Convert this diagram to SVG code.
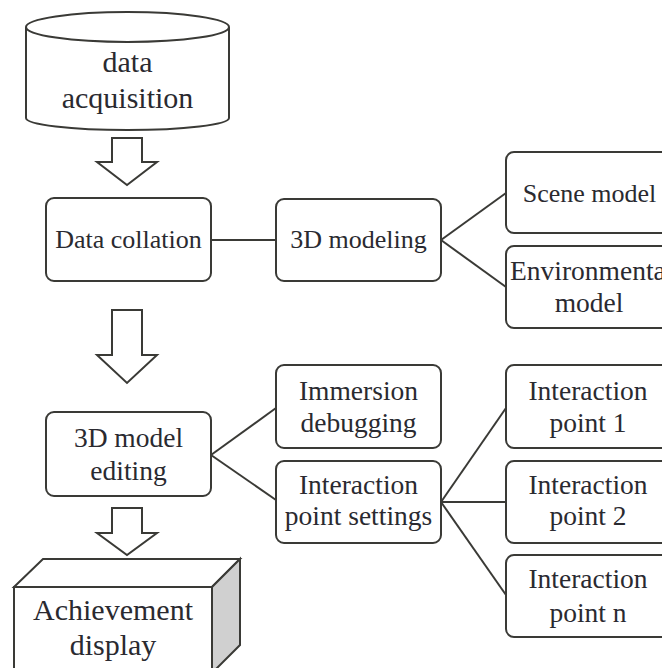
<svg xmlns="http://www.w3.org/2000/svg" width="662" height="668" viewBox="0 0 662 668">
<rect width="662" height="668" fill="#fff"/>
<g id="connectors" fill="none" stroke="#3a3a36" stroke-width="2">
<line x1="211" y1="240" x2="276" y2="240"/>
<line x1="441" y1="240" x2="506" y2="193"/>
<line x1="441" y1="240" x2="506" y2="287"/>
<line x1="211" y1="455" x2="276" y2="408"/>
<line x1="211" y1="455" x2="276" y2="500"/>
<line x1="441" y1="502" x2="506" y2="408"/>
<line x1="441" y1="502" x2="506" y2="502"/>
<line x1="441" y1="502" x2="506" y2="595"/>
<polygon fill="#fff" points="112,138 142,138 142,162 157,162 127,185 97,162 112,162"/>
<polygon fill="#fff" points="112,310 142,310 142,355 157,355 127,383 97,355 112,355"/>
<polygon fill="#fff" points="112,508 142,508 142,533 157,533 127,555 97,533 112,533"/>
</g>
<g id="data-acquisition">
<path fill="#fff" stroke="#3a3a36" stroke-width="2" d="M26,27 L26,118 A101.5,12 0 0 0 229,118 L229,27"/>
<ellipse fill="#fff" stroke="#3a3a36" stroke-width="2" cx="127.5" cy="27" rx="101.5" ry="15"/>
<text x="127.5" y="72" font-family="Liberation Serif" font-size="30" fill="#2a2a30" text-anchor="middle">data</text>
<text x="127.5" y="108" font-family="Liberation Serif" font-size="30" fill="#2a2a30" text-anchor="middle">acquisition</text>
</g>
<g id="data-collation">
<rect fill="#fff" stroke="#3a3a36" stroke-width="2" x="46" y="198" width="165" height="83" rx="8"/>
<text x="128.5" y="248" font-family="Liberation Serif" font-size="26" fill="#2a2a30" text-anchor="middle">Data collation</text>
</g>
<g id="modeling-3d">
<rect fill="#fff" stroke="#3a3a36" stroke-width="2" x="276" y="199" width="165" height="82" rx="8"/>
<text x="358.5" y="248" font-family="Liberation Serif" font-size="26" fill="#2a2a30" text-anchor="middle">3D modeling</text>
</g>
<g id="scene-model">
<rect fill="#fff" stroke="#3a3a36" stroke-width="2" x="506" y="152" width="170" height="81" rx="8"/>
<text x="589.5" y="202" font-family="Liberation Serif" font-size="26" fill="#2a2a30" text-anchor="middle">Scene model</text>
</g>
<g id="environmental-model">
<rect fill="#fff" stroke="#3a3a36" stroke-width="2" x="506" y="246" width="170" height="82" rx="8"/>
<text x="510" y="280" font-family="Liberation Serif" font-size="27.5" fill="#2a2a30">Environmental</text>
<text x="589" y="312" font-family="Liberation Serif" font-size="27.5" fill="#2a2a30" text-anchor="middle">model</text>
</g>
<g id="model-editing">
<rect fill="#fff" stroke="#3a3a36" stroke-width="2" x="46" y="412" width="165" height="84" rx="8"/>
<text x="128.5" y="447" font-family="Liberation Serif" font-size="27.5" fill="#2a2a30" text-anchor="middle">3D model</text>
<text x="128.5" y="480" font-family="Liberation Serif" font-size="27.5" fill="#2a2a30" text-anchor="middle">editing</text>
</g>
<g id="immersion-debugging">
<rect fill="#fff" stroke="#3a3a36" stroke-width="2" x="276" y="365" width="165" height="83" rx="8"/>
<text x="358.5" y="400" font-family="Liberation Serif" font-size="27.5" fill="#2a2a30" text-anchor="middle">Immersion</text>
<text x="358.5" y="432" font-family="Liberation Serif" font-size="27.5" fill="#2a2a30" text-anchor="middle">debugging</text>
</g>
<g id="interaction-point-settings">
<rect fill="#fff" stroke="#3a3a36" stroke-width="2" x="276" y="461" width="165" height="82" rx="8"/>
<text x="358.5" y="494" font-family="Liberation Serif" font-size="27.5" fill="#2a2a30" text-anchor="middle">Interaction</text>
<text x="358.5" y="525" font-family="Liberation Serif" font-size="27.5" fill="#2a2a30" text-anchor="middle">point settings</text>
</g>
<g id="interaction-point-1">
<rect fill="#fff" stroke="#3a3a36" stroke-width="2" x="506" y="365" width="170" height="83" rx="8"/>
<text x="588" y="400" font-family="Liberation Serif" font-size="27.5" fill="#2a2a30" text-anchor="middle">Interaction</text>
<text x="588" y="432" font-family="Liberation Serif" font-size="27.5" fill="#2a2a30" text-anchor="middle">point 1</text>
</g>
<g id="interaction-point-2">
<rect fill="#fff" stroke="#3a3a36" stroke-width="2" x="506" y="461" width="170" height="82" rx="8"/>
<text x="588" y="494" font-family="Liberation Serif" font-size="27.5" fill="#2a2a30" text-anchor="middle">Interaction</text>
<text x="588" y="525" font-family="Liberation Serif" font-size="27.5" fill="#2a2a30" text-anchor="middle">point 2</text>
</g>
<g id="interaction-point-n">
<rect fill="#fff" stroke="#3a3a36" stroke-width="2" x="506" y="555" width="170" height="82" rx="8"/>
<text x="588" y="588" font-family="Liberation Serif" font-size="27.5" fill="#2a2a30" text-anchor="middle">Interaction</text>
<text x="588" y="622" font-family="Liberation Serif" font-size="27.5" fill="#2a2a30" text-anchor="middle">point n</text>
</g>
<g id="achievement-display" stroke="#3a3a36" stroke-width="2">
<polygon fill="#fff" points="14,587 43,559 240,559 212,587"/>
<polygon fill="#d0d0d0" points="212,587 240,559 240,645 212,673"/>
<rect fill="#fff" x="14" y="587" width="198" height="90"/>
<text x="113" y="620" stroke="none" font-family="Liberation Serif" font-size="30" fill="#2a2a30" text-anchor="middle">Achievement</text>
<text x="113" y="655" stroke="none" font-family="Liberation Serif" font-size="30" fill="#2a2a30" text-anchor="middle">display</text>
</g>
</svg>
